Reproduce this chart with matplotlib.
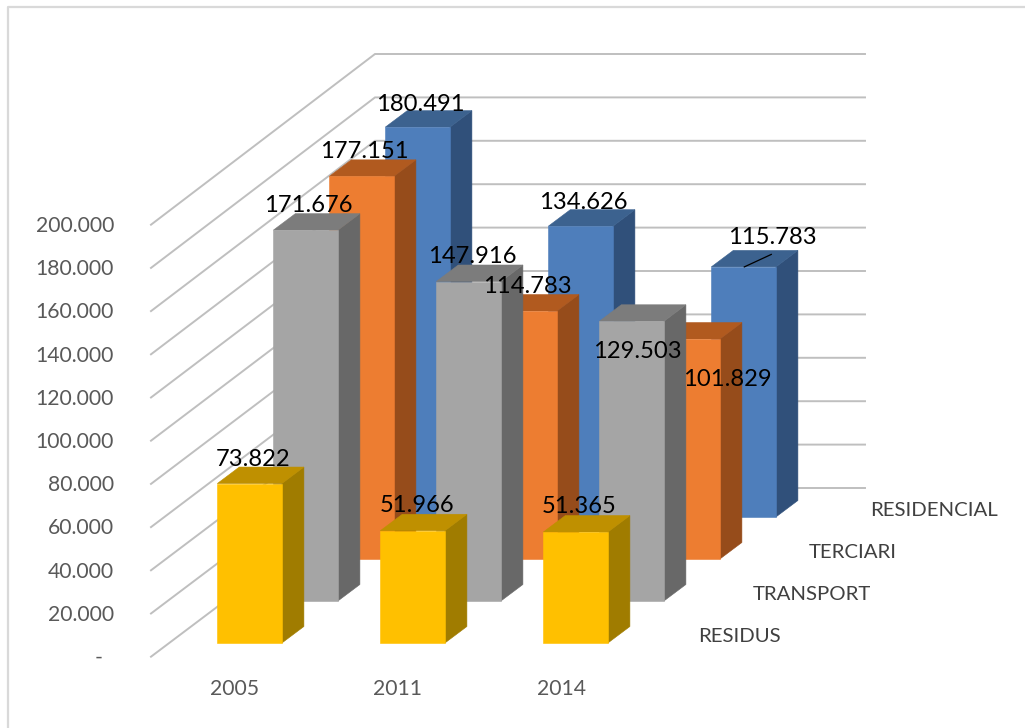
import matplotlib
matplotlib.use("Agg")
import matplotlib.pyplot as plt
from matplotlib.patches import Polygon, Rectangle

plt.rcParams['font.family'] = ['Lato', 'DejaVu Sans']

years = ['2005', '2011', '2014']
series_names = ['RESIDUS', 'TRANSPORT', 'TERCIARI', 'RESIDENCIAL']
residus = [73822, 51966, 51365]
transport = [171676, 147916, 129503]
terciari = [177151, 114783, 101829]
residencial = [180491, 134626, 115783]
axis_ticks = [0, 20000, 40000, 60000, 80000, 100000, 120000, 140000, 160000, 180000, 200000]

# front, top, side shades per series
shades = [('#FFC000', '#BF9000', '#A07C00'),
          ('#A5A5A5', '#7C7C7C', '#686868'),
          ('#ED7D31', '#B15A1F', '#964C1B'),
          ('#4E7EBB', '#3C628F', '#30507A')]

# oblique projection, everything in image pixels
X0, Y0 = 217.3, 643.0
COL_STEP = 163.0
ROW_DX, ROW_DY = 56.0, -42.0
BAR_W = 64.6
DEPTH_X, DEPTH_Y = 22.0, -16.5
PX_PER_UNIT = 2.16 / 1000


def bar_base(col, row):
    return X0 + col * COL_STEP + row * ROW_DX, Y0 + row * ROW_DY


def fmt(v):
    return f"{v:,.0f}".replace(",", ".")


fig = plt.figure(figsize=(10.25, 7.28), dpi=100)
ax = fig.add_axes([0, 0, 1, 1])
ax.set_xlim(0, 1025)
ax.set_ylim(728, 0)
ax.axis('off')

# chart frame
ax.plot([8, 8, 1025], [728, 6.5, 6.5], color='#D9D9D9', lw=1.6, zorder=1)

# gridlines: left wall then back wall
for t in axis_ticks:
    h = t * PX_PER_UNIT
    back_h = t * 2.17 / 1000
    ax.plot([151, 375, 865], [656.7 - h, 488 - back_h, 488 - back_h],
            color='#BFBFBF', lw=1.4, zorder=2, solid_joinstyle='miter')
    label = fmt(t) if t else '-'
    ax.text(114 if t else 103, 656 - h + 2, label, ha='right', va='center',
            fontsize=15.2, color='#595959', zorder=20)

# bars, back row first so the front ones cover them
rows = [residus, transport, terciari, residencial]
z = 3
for row in range(3, -1, -1):
    front, top, side = shades[row]
    for col, v in enumerate(rows[row]):
        x, y = bar_base(col, row)
        h = v * PX_PER_UNIT
        ax.add_patch(Polygon([(x + BAR_W, y), (x + BAR_W + DEPTH_X, y + DEPTH_Y),
                              (x + BAR_W + DEPTH_X, y - h + DEPTH_Y), (x + BAR_W, y - h)],
                             facecolor=side, edgecolor=side, lw=0.4, zorder=z))
        ax.add_patch(Polygon([(x, y - h), (x + DEPTH_X, y - h + DEPTH_Y),
                              (x + BAR_W + DEPTH_X, y - h + DEPTH_Y), (x + BAR_W, y - h)],
                             facecolor=top, edgecolor=top, lw=0.4, zorder=z))
        ax.add_patch(Rectangle((x, y - h), BAR_W, h, facecolor=front,
                               edgecolor=front, lw=0.4, zorder=z))
    z += 1

# value labels, shifted by hand the way they sit in the original
label_offsets = {(0, 0): (3, -24), (1, 0): (4, -25), (2, 0): (4, -26),
                 (0, 1): (3, -25), (1, 1): (4, -25), (2, 1): (6, 30),
                 (0, 2): (3, -25), (1, 2): (3, -25), (2, 2): (40, 40),
                 (0, 3): (3, -23), (1, 3): (3, -24), (2, 3): (29, -29)}
for row, vals in enumerate(rows):
    for col, v in enumerate(vals):
        x, y = bar_base(col, row)
        dx, dy = label_offsets[(col, row)]
        ax.text(x + BAR_W / 2 + dx, y - v * PX_PER_UNIT + dy, fmt(v), ha='center',
                va='center', fontsize=17.1, color='black', zorder=21)

# leader line for the last label
x, y = bar_base(2, 3)
top_y = y - residencial[2] * PX_PER_UNIT
ax.plot([x + 33, x + 60], [top_y, top_y - 12.5], color='black', lw=0.9, zorder=21)

# category and series labels
for col, yr in enumerate(years):
    ax.text(235 + col * COL_STEP, 689, yr, ha='center', va='center',
            fontsize=15.2, color='#595959')
for row, (name, sx) in enumerate(zip(series_names, [698, 753, 809, 870])):
    ax.text(sx, 636.5 - row * 42, name, ha='left', va='center',
            fontsize=14.7, color='#404040')

fig.savefig('out.png', dpi=100)
